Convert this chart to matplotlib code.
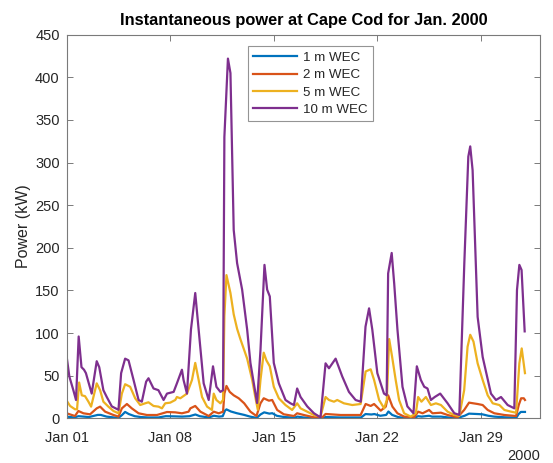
import numpy as np
import matplotlib
matplotlib.use("Agg")
import matplotlib.pyplot as plt
import matplotlib.dates as mdates

plt.rcParams['font.family'] = ['Liberation Sans', 'DejaVu Sans']

start = np.datetime64('2000-01-01T00:00')

# Hourly-sampled power (kW) at Cape Cod, listed as (days since Jan 1, value)
t_10m = [0.0, 0.18, 0.45, 0.63, 0.81, 1.0, 1.17, 1.3, 1.69, 2.03, 2.2, 2.48, 2.71, 3.05, 3.5,
         3.68, 3.95, 4.18, 4.52, 4.86, 5.08, 5.37, 5.53, 5.87, 6.2, 6.55, 6.78, 7.23, 7.45, 7.79,
         7.9, 8.13, 8.4, 8.69, 8.92, 9.26, 9.6, 9.89, 10.12, 10.39, 10.57, 10.66, 10.9, 11.07,
         11.29, 11.52, 11.86, 12.2, 12.42, 12.87, 13.1, 13.37, 13.55, 13.73, 14.0, 14.34, 14.79,
         15.13, 15.36, 15.58, 15.81, 16.26, 16.71, 17.16, 17.5, 17.73, 18.18, 18.63, 19.08, 19.53,
         19.88, 20.2, 20.44, 20.66, 21.0, 21.45, 21.63, 21.73, 21.97, 22.14, 22.36, 22.7, 23.03,
         23.44, 23.67, 23.94, 24.17, 24.39, 24.62, 24.88, 25.25, 25.75, 26.2, 26.54, 26.88, 27.15,
         27.28, 27.44, 27.78, 28.12, 28.68, 29.02, 29.36, 29.81, 30.26, 30.44, 30.6, 30.75, 30.96]
p_10m = [72, 49, 33, 21.5, 96, 60, 57, 53, 29, 67, 60, 33, 25, 14, 10,
         53, 70, 68, 45, 21.5, 19.5, 43, 47, 35, 33, 21.5, 29, 31, 41, 57,
         45, 29, 104, 147, 104, 41, 21.5, 61, 37, 31, 33, 330, 422, 405,
         221, 182, 151, 104, 65, 18, 80, 180, 151, 143, 65, 41, 21.5,
         17.6, 15.6, 35, 25, 14, 6, 1, 64.5, 58.7, 70, 49, 31, 21.5,
         19.5, 107.5, 129, 104, 53, 29, 27, 170, 194, 158, 104, 37, 14,
         6, 61, 45, 37, 35, 21.5, 25, 29, 17.6, 6, 4, 182, 307,
         319, 291, 119, 72, 29, 21.5, 25, 15.6, 11.7, 150.6, 180, 174, 102]

t_5m = [0.0, 0.23, 0.56, 0.7, 0.84, 1.02, 1.24, 1.47, 1.65, 2.03, 2.26, 2.48, 2.82, 3.16, 3.5,
        3.73, 3.95, 4.29, 4.63, 4.97, 5.3, 5.53, 5.87, 6.21, 6.44, 6.66, 7.0, 7.34, 7.45, 7.68,
        8.13, 8.47, 8.69, 8.92, 9.15, 9.49, 9.82, 9.94, 10.12, 10.39, 10.57, 10.66, 10.8, 11.07,
        11.29, 11.52, 11.74, 12.0, 12.2, 12.54, 12.75, 12.92, 13.1, 13.32, 13.5, 13.73, 14.0,
        14.34, 14.79, 15.24, 15.58, 15.81, 16.26, 16.71, 17.16, 17.5, 17.73, 18.07, 18.29, 18.74,
        19.31, 19.87, 20.21, 20.55, 20.78, 21.12, 21.46, 21.64, 21.8, 22.0, 22.24, 22.47, 22.81,
        23.26, 23.6, 23.76, 23.98, 24.28, 24.62, 24.96, 25.3, 25.75, 26.2, 26.54, 26.87, 27.1,
        27.28, 27.5, 27.78, 28.12, 28.46, 28.8, 29.25, 29.59, 30.04, 30.38, 30.6, 30.76, 30.98]
p_5m = [20.7, 14.5, 10.6, 10.6, 42, 27, 26, 19.5, 13.7, 41, 33, 19.5, 13.7, 8.6, 5.9,
        29, 40, 37, 23.5, 15.6, 17.6, 18.8, 14.5, 13.7, 11.7, 17.6, 18.4, 21.5, 25, 23.5,
        29, 45, 65, 45, 25, 13.7, 9.8, 29, 21.5, 17.6, 21.5, 120, 168, 147,
        122, 105, 93, 80, 70, 45, 25, 10, 45, 77, 68, 61, 37,
        23.5, 15.6, 9.8, 17.6, 11.7, 7.8, 3.9, 2, 25, 21.5, 19.5, 21.5, 17.6,
        15.6, 16.8, 55, 57.5, 45, 21.5, 11.7, 21.5, 93, 72, 45, 21.5, 5.9,
        2, 5.9, 25, 19.5, 25, 15.6, 17.6, 15.6, 7.8, 3.9, 2.7, 33, 84,
        98, 90, 64.5, 45, 27, 17.6, 15.6, 9.8, 7.8, 6.6, 64.5, 82, 53]

t_2m = [0.0, 0.56, 0.79, 1.13, 1.58, 2.03, 2.26, 2.6, 3.16, 3.5, 3.73, 4.07, 4.4, 4.86, 5.42,
        6.1, 6.78, 7.34, 7.79, 8.24, 8.36, 8.69, 9.04, 9.6, 9.94, 10.28, 10.57, 10.66, 10.8,
        11.02, 11.29, 11.63, 12.0, 12.42, 12.83, 13.1, 13.32, 13.67, 13.89, 14.23, 14.68, 15.36,
        15.58, 16.03, 16.71, 17.28, 17.5, 18.52, 19.87, 20.21, 20.55, 20.78, 21.23, 21.57, 21.73,
        22.02, 22.36, 22.81, 23.49, 23.76, 24.06, 24.5, 24.73, 25.3, 25.75, 26.42, 26.87, 27.2,
        27.78, 28.12, 28.46, 28.91, 29.59, 30.38, 30.56, 30.72, 30.9, 30.98]
p_2m = [5.9, 2.7, 8.6, 5.9, 4.7, 11.7, 13.7, 7.8, 3.9, 2, 11.7, 16.8, 11.7, 5.9, 3.9,
        3.9, 7.4, 7.0, 5.9, 7.8, 11.7, 14.5, 7.8, 2.7, 7.8, 5.9, 7.8, 29, 38,
        31, 27, 23.5, 17.6, 7.8, 2.7, 17.6, 23.5, 20.7, 21.5, 9.8, 4.7, 2.7,
        5.9, 3.9, 1.2, 1.2, 5.1, 3.9, 3.9, 16.8, 14.5, 16.8, 9, 13.7, 27,
        13.7, 5.9, 2, 1.2, 7.8, 5.9, 9.8, 5.9, 6.6, 3.9, 1.2, 9.8, 18.4,
        16.8, 15.6, 9.8, 5.9, 3.9, 2.7, 15.6, 23.5, 23.5, 21.5]

t_1m = [0.0, 0.5, 0.8, 1.5, 2.1, 2.3, 2.7, 3.2, 3.5, 3.75, 3.95, 4.2, 4.6, 5.0, 5.5, 6.2, 6.7,
        7.3, 7.8, 8.3, 8.7, 9.0, 9.6, 9.95, 10.3, 10.55, 10.7, 10.8, 11.1, 11.5, 12.0, 12.4,
        12.85, 13.1, 13.35, 13.7, 13.9, 14.2, 14.7, 15.4, 15.6, 16.0, 16.7, 17.3, 17.5, 18.5,
        19.9, 20.2, 20.6, 20.8, 21.2, 21.6, 21.75, 22.0, 22.4, 22.8, 23.5, 23.75, 24.0, 24.5,
        24.7, 25.3, 25.8, 26.4, 26.9, 27.2, 27.8, 28.1, 28.5, 28.9, 29.6, 30.4, 30.55, 30.7, 30.98]
p_1m = [2, 1, 2.5, 1.5, 4, 4, 2, 1, 0.5, 4, 7.5, 5, 2.5, 1.5, 1, 1, 2.5,
        2.3, 2, 2.5, 4.5, 2.5, 1, 3, 2, 2.5, 9, 10.5, 8, 6, 4, 2,
        0.5, 4.5, 7, 5.5, 6, 3, 1.5, 0.8, 2, 1, 0.3, 0.3, 1.5, 1,
        1, 5, 4.5, 5, 3, 4, 8, 4, 1.5, 0.5, 0.3, 2.5, 2, 3,
        2, 2, 1, 0.3, 3, 5.5, 5, 4.7, 3, 2, 1.2, 0.8, 5, 7.5, 7.5]

labels = ['1 m WEC', '2 m WEC', '5 m WEC', '10 m WEC']
colors = ['#0072BD', '#D95319', '#EDB120', '#7E2F8E']
tick_days = [0, 7, 14, 21, 28]
title = 'Instantaneous power at Cape Cod for Jan. 2000'


def to_dates(days):
    minutes = np.round(np.asarray(days) * 24 * 60).astype(int)
    return start + minutes.astype('timedelta64[m]')


fig = plt.figure(figsize=(5.53, 4.63), dpi=100)
ax = fig.add_axes([0.1206, 0.0965, 0.856, 0.8285])

series = [(t_1m, p_1m), (t_2m, p_2m), (t_5m, p_5m), (t_10m, p_10m)]
for (t, p), lab, c in zip(series, labels, colors):
    ax.plot(to_dates(t), p, color=c, lw=1.6, label=lab)

ax.set_xlim(start, start + np.timedelta64(32 * 24, 'h'))
ax.set_ylim(0, 450)
ax.set_yticks(np.arange(0, 451, 50))
ax.set_xticks(to_dates(tick_days))
ax.xaxis.set_major_formatter(mdates.DateFormatter('%b %d'))

axis_col = '#262626'
for s in ax.spines.values():
    s.set_color('#7a7a7a')
    s.set_linewidth(0.8)
ax.tick_params(direction='in', length=4, width=0.7, color='#7a7a7a',
               top=True, right=True, labelsize=10.5, labelcolor=axis_col)
ax.tick_params(axis='x', pad=9)
ax.tick_params(axis='y', pad=5)

ax.set_title(title, fontsize=11.8, fontweight='bold', color='black', pad=7)
ax.set_ylabel('Power (kW)', fontsize=11.5, color=axis_col, labelpad=3)
ax.text(1.0, -0.079, '2000', transform=ax.transAxes, ha='right', va='top',
        fontsize=10.5, color=axis_col)

leg = ax.legend(loc='upper left', bbox_to_anchor=(0.383, 0.97), fontsize=9.6,
                frameon=True, fancybox=False, handlelength=3.3, handletextpad=0.4,
                labelspacing=0.38, borderpad=0.4, borderaxespad=0)
leg.get_frame().set_edgecolor('#7a7a7a')
leg.get_frame().set_linewidth(0.8)
for txt in leg.get_texts():
    txt.set_color(axis_col)

fig.savefig('out.png', dpi=100)
